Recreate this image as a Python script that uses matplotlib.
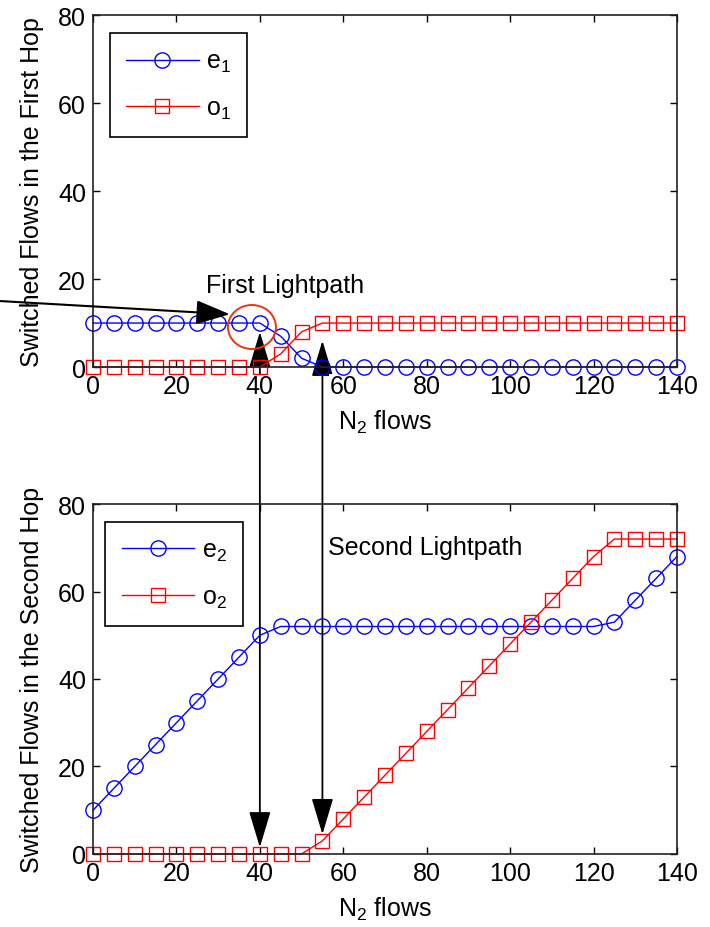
import matplotlib
matplotlib.use('Agg')
import matplotlib.pyplot as plt
from matplotlib.patches import ConnectionPatch, Ellipse

plt.rcParams['font.family'] = ['Liberation Sans', 'DejaVu Sans']
plt.rcParams['mathtext.fontset'] = 'custom'
plt.rcParams['mathtext.rm'] = 'Liberation Sans'

# N2 flows on the x axis
flows = [0, 5, 10, 15, 20, 25, 30, 35, 40, 45, 50, 55, 60, 65, 70,
         75, 80, 85, 90, 95, 100, 105, 110, 115, 120, 125, 130, 135, 140]

# first hop
e1 = [10, 10, 10, 10, 10, 10, 10, 10, 10, 7, 2, 0, 0, 0, 0,
      0, 0, 0, 0, 0, 0, 0, 0, 0, 0, 0, 0, 0, 0]
o1 = [0, 0, 0, 0, 0, 0, 0, 0, 0, 3, 8, 10, 10, 10, 10,
      10, 10, 10, 10, 10, 10, 10, 10, 10, 10, 10, 10, 10, 10]

# second hop
e2 = [10, 15, 20, 25, 30, 35, 40, 45, 50, 52, 52, 52, 52, 52, 52,
      52, 52, 52, 52, 52, 52, 52, 52, 52, 52, 53, 58, 63, 68]
o2 = [0, 0, 0, 0, 0, 0, 0, 0, 0, 0, 0, 3, 8, 13, 18,
      23, 28, 33, 38, 43, 48, 53, 58, 63, 68, 72, 72, 72, 72]

fs = 18
fig = plt.figure(figsize=(7.1, 9.28), dpi=100)
ax1 = fig.add_axes([0.131, 0.6034, 0.8225, 0.3793])
ax2 = fig.add_axes([0.131, 0.0787, 0.8225, 0.3771])
ax2.patch.set_alpha(0)

def style(ax, ylab):
    ax.set_xlim(0, 140)
    ax.set_ylim(0, 80)
    ax.set_xticks(range(0, 141, 20))
    ax.set_yticks(range(0, 81, 20))
    ax.tick_params(direction='in', length=5, width=1, top=True, right=True,
                   labelsize=fs, pad=5)
    for sp in ax.spines.values():
        sp.set_linewidth(1.2)
        sp.set_color('#222222')
    ax.set_xlabel('$\\mathregular{N_2}$ flows', fontsize=fs, labelpad=7)
    ax.set_ylabel(ylab, fontsize=fs, labelpad=10)

ax1.plot(flows, e1, 'b-o', lw=1, ms=11, mfc='none', mew=1, label='$\\mathregular{e_1}$', clip_on=False)
ax1.plot(flows, o1, 'r-s', lw=1, ms=10, mfc='none', mew=1, label='$\\mathregular{o_1}$', clip_on=False)
style(ax1, 'Switched Flows in the First Hop')
for lab in ax1.get_xticklabels():
    lab.set_bbox(dict(facecolor='white', edgecolor='none', pad=0))

ax2.plot(flows, e2, 'b-o', lw=1, ms=11, mfc='none', mew=1, label='$\\mathregular{e_2}$', clip_on=False)
ax2.plot(flows, o2, 'r-s', lw=1, ms=10, mfc='none', mew=1, label='$\\mathregular{o_2}$', clip_on=False)
style(ax2, 'Switched Flows in the Second Hop')

for ax, anchor in [(ax1, (0.029, 0.949)), (ax2, (0.021, 0.949))]:
    leg = ax.legend(loc='upper left', bbox_to_anchor=anchor, borderaxespad=0,
                    fontsize=fs, fancybox=False, edgecolor='black',
                    handlelength=2.9, handletextpad=0.3, labelspacing=0.85,
                    borderpad=0.65)
    leg.get_frame().set_linewidth(1.2)
    leg.get_frame().set_alpha(1)

ax1.text(27, 18.6, 'First Lightpath', fontsize=fs, va='center')
ax2.text(56.3, 70.2, 'Second Lightpath', fontsize=fs, va='center')

# red circle around the e1 points near 40
ax1.add_patch(Ellipse((38.1, 9.1), 11.5, 10, fill=False, ec='#ee3311', lw=1.4, zorder=4))

# arrow coming in from the left edge
ax1.annotate('', xy=(32.8, 12), xytext=(-22.3, 15), annotation_clip=False,
             arrowprops=dict(arrowstyle='-|>,head_length=1.4,head_width=0.5',
                             mutation_scale=15, color='black', lw=1.5,
                             shrinkA=0, shrinkB=0))

# double arrows linking the two hops
for x, ytop, ybot in [(40, 8, 1.5), (55, 6, 4.5)]:
    con = ConnectionPatch(xyA=(x, ytop), coordsA=ax1.transData,
                          xyB=(x, ybot), coordsB=ax2.transData,
                          arrowstyle='<|-|>,head_length=1.5,head_width=0.45',
                          mutation_scale=15, color='black', lw=1.3,
                          shrinkA=0, shrinkB=0, zorder=1, clip_on=False)
    ax1.add_artist(con)

fig.savefig('out.png', dpi=100)
